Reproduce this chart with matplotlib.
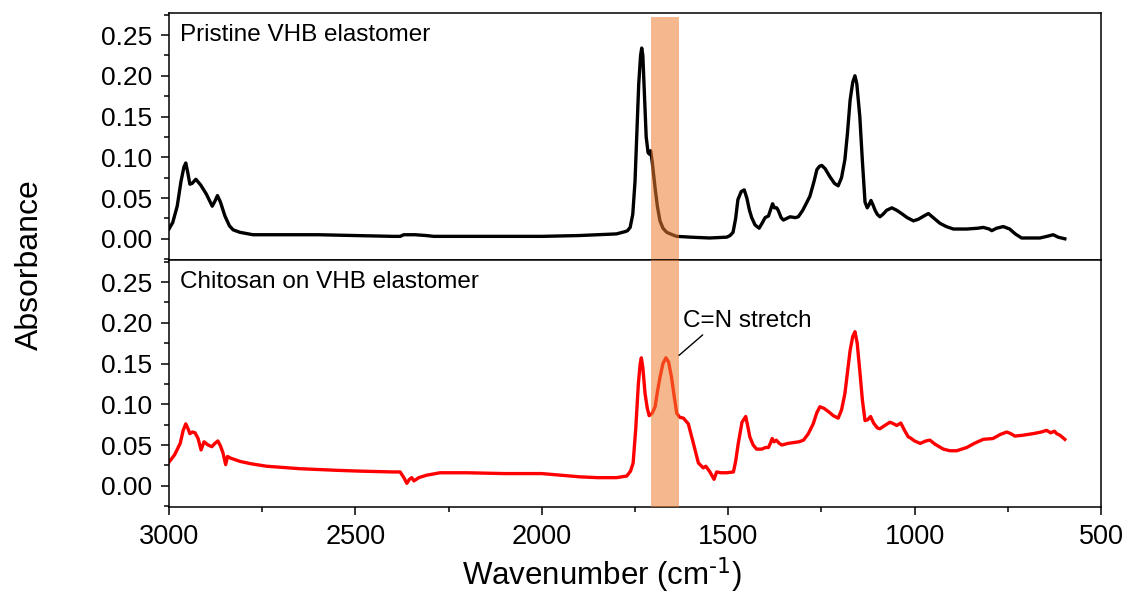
import matplotlib
matplotlib.use("Agg")
import matplotlib.pyplot as plt
from matplotlib.ticker import MultipleLocator

plt.rcParams['font.family'] = ['Liberation Sans', 'DejaVu Sans']
plt.rcParams['mathtext.default'] = 'regular'

# ---- data: pristine VHB elastomer (black) ----
wn_pristine = [3000, 2990, 2978, 2968, 2960, 2955, 2950, 2944, 2938, 2928, 2915, 2900, 2884, 2877,
               2870, 2862, 2850, 2838, 2828, 2810, 2775, 2700, 2600, 2500, 2400, 2380, 2370, 2340,
               2310, 2290, 2200, 2100, 2000, 1900, 1800, 1775, 1770, 1763, 1756, 1750, 1745, 1740,
               1735, 1732, 1729, 1725, 1720, 1715, 1712, 1708, 1704, 1700, 1696, 1690, 1683, 1675,
               1665, 1650, 1638, 1600, 1550, 1504, 1495, 1487, 1480, 1474, 1465, 1457, 1450, 1443,
               1437, 1428, 1417, 1408, 1401, 1392, 1386, 1381, 1376, 1370, 1366, 1358, 1352, 1343,
               1334, 1320, 1312, 1300, 1290, 1281, 1270, 1262, 1255, 1249, 1240, 1227, 1215, 1205,
               1196, 1187, 1180, 1173, 1166, 1160, 1155, 1147, 1140, 1133, 1127, 1122, 1117, 1112,
               1106, 1100, 1093, 1085, 1075, 1061, 1048, 1035, 1020, 1003, 990, 975, 963, 950, 932,
               915, 896, 860, 830, 816, 800, 793, 780, 762, 745, 730, 713, 690, 664, 645, 628, 615, 597]
abs_pristine = [0.012, 0.020, 0.040, 0.070, 0.088, 0.093, 0.082, 0.067, 0.068, 0.073, 0.066, 0.055, 0.040, 0.046,
                0.053, 0.045, 0.028, 0.016, 0.011, 0.008, 0.005, 0.005, 0.005, 0.004, 0.003, 0.003, 0.005, 0.005,
                0.004, 0.003, 0.003, 0.003, 0.003, 0.004, 0.006, 0.009, 0.010, 0.014, 0.030, 0.070, 0.130, 0.190,
                0.225, 0.234, 0.225, 0.180, 0.125, 0.106, 0.104, 0.108, 0.095, 0.078, 0.062, 0.040, 0.022, 0.013,
                0.008, 0.005, 0.003, 0.002, 0.001, 0.002, 0.004, 0.008, 0.025, 0.048, 0.058, 0.060, 0.050, 0.035,
                0.026, 0.017, 0.013, 0.020, 0.026, 0.028, 0.036, 0.043, 0.038, 0.038, 0.035, 0.026, 0.023, 0.025,
                0.027, 0.026, 0.027, 0.035, 0.044, 0.052, 0.070, 0.085, 0.089, 0.090, 0.086, 0.076, 0.068, 0.065,
                0.075, 0.097, 0.130, 0.170, 0.192, 0.200, 0.190, 0.150, 0.095, 0.045, 0.038, 0.042, 0.047, 0.042,
                0.035, 0.030, 0.027, 0.030, 0.035, 0.038, 0.035, 0.031, 0.026, 0.022, 0.024, 0.028, 0.031, 0.026, 0.019,
                0.015, 0.012, 0.012, 0.013, 0.014, 0.012, 0.010, 0.013, 0.015, 0.012, 0.006, 0.001, 0.001, 0.001, 0.003, 0.005, 0.002, 0.000]

# ---- data: chitosan on VHB elastomer (red) ----
wn_chitosan = [3000, 2985, 2970, 2962, 2955, 2949, 2944, 2937, 2930, 2922, 2914, 2906, 2895, 2885, 2877,
               2869, 2862, 2855, 2848, 2843, 2835, 2810, 2780, 2738, 2650, 2550, 2488, 2400, 2380, 2370,
               2362, 2355, 2349, 2343, 2330, 2309, 2273, 2200, 2100, 2000, 1950, 1898, 1850, 1800, 1772,
               1762, 1755, 1748, 1741, 1736, 1733, 1729, 1723, 1717, 1712, 1704, 1696, 1690, 1683, 1675,
               1667, 1660, 1652, 1645, 1638, 1630, 1620, 1607, 1595, 1580, 1567, 1560, 1549, 1538, 1531,
               1520, 1504, 1486, 1480, 1473, 1463, 1453, 1447, 1442, 1433, 1424, 1410, 1400, 1392, 1387,
               1382, 1377, 1371, 1363, 1356, 1340, 1325, 1310, 1298, 1285, 1272, 1262, 1254, 1243, 1231,
               1218, 1205, 1196, 1187, 1180, 1173, 1166, 1160, 1154, 1147, 1140, 1133, 1126, 1118, 1110,
               1100, 1093, 1080, 1066, 1056, 1048, 1037, 1027, 1017, 1012, 1000, 985, 970, 959, 945, 923,
               905, 887, 860, 840, 816, 790, 770, 753, 742, 731, 710, 682, 660, 646, 635, 625, 619, 610, 597]
abs_chitosan = [0.029, 0.038, 0.052, 0.068, 0.076, 0.070, 0.064, 0.066, 0.065, 0.058, 0.044, 0.054, 0.050, 0.048, 0.052,
                0.055, 0.049, 0.040, 0.026, 0.036, 0.034, 0.030, 0.027, 0.024, 0.021, 0.019, 0.018, 0.017, 0.017, 0.010,
                0.003, 0.008, 0.010, 0.006, 0.010, 0.013, 0.016, 0.016, 0.015, 0.015, 0.013, 0.011, 0.010, 0.010, 0.012,
                0.018, 0.028, 0.070, 0.125, 0.150, 0.157, 0.145, 0.113, 0.095, 0.086, 0.089, 0.097, 0.115, 0.133, 0.150,
                0.157, 0.152, 0.133, 0.110, 0.089, 0.084, 0.083, 0.076, 0.055, 0.028, 0.022, 0.024, 0.017, 0.008, 0.017,
                0.016, 0.016, 0.017, 0.030, 0.052, 0.078, 0.085, 0.072, 0.060, 0.050, 0.045, 0.045, 0.047, 0.047, 0.052,
                0.058, 0.054, 0.056, 0.052, 0.050, 0.052, 0.053, 0.054, 0.056, 0.064, 0.076, 0.090, 0.097, 0.095, 0.091,
                0.086, 0.083, 0.093, 0.113, 0.140, 0.166, 0.183, 0.189, 0.175, 0.141, 0.105, 0.080, 0.081, 0.085, 0.077,
                0.071, 0.070, 0.074, 0.078, 0.076, 0.074, 0.077, 0.068, 0.060, 0.059, 0.055, 0.052, 0.055, 0.056, 0.051, 0.045,
                0.043, 0.043, 0.047, 0.052, 0.057, 0.058, 0.063, 0.066, 0.064, 0.061, 0.062, 0.064, 0.066, 0.068, 0.065, 0.067, 0.064, 0.062, 0.057]

panel_titles = ["Pristine VHB elastomer", "Chitosan on VHB elastomer"]
band_range = (1633, 1707)
xlim = (3000, 500)
ylim = (-0.026, 0.277)

fig = plt.figure(figsize=(11.29, 5.94), dpi=100)
left, width = 169 / 1129, (1101 - 169) / 1129
h = (260 - 13) / 594
ax1 = fig.add_axes([left, 1 - 260 / 594, width, h])
ax2 = fig.add_axes([left, 1 - 507 / 594, width, h])

ax1.plot(wn_pristine, abs_pristine, color='black', lw=2.4, zorder=2, solid_joinstyle='round')
ax2.plot(wn_chitosan, abs_chitosan, color='#FF0000', lw=2.4, zorder=2, solid_joinstyle='round')

band_color = '#ED7D31'
ax1.axvspan(band_range[0], band_range[1], ymin=0, ymax=(0.272 - ylim[0]) / (ylim[1] - ylim[0]),
            color=band_color, alpha=0.55, lw=0, zorder=3)
ax2.axvspan(band_range[0], band_range[1], color=band_color, alpha=0.55, lw=0, zorder=3)

for ax, title in zip((ax1, ax2), panel_titles):
    ax.set_xlim(*xlim)
    ax.set_ylim(*ylim)
    ax.yaxis.set_major_locator(MultipleLocator(0.05))
    ax.yaxis.set_minor_locator(MultipleLocator(0.025))
    ax.xaxis.set_major_locator(MultipleLocator(500))
    ax.xaxis.set_minor_locator(MultipleLocator(250))
    ax.yaxis.set_major_formatter(matplotlib.ticker.FormatStrFormatter('%.2f'))
    for s in ax.spines.values():
        s.set_linewidth(1.1)
    ax.tick_params(axis='y', which='major', direction='out', length=6, width=1.1, labelsize=19, pad=6)
    ax.tick_params(axis='y', which='minor', direction='out', length=3.5, width=1.1)
    ax.tick_params(axis='x', which='major', direction='out', length=6, width=1.1, labelsize=19.5, pad=6)
    ax.tick_params(axis='x', which='minor', direction='out', length=3.5, width=1.1)
    ax.text(0.012, (0.25 - ylim[0]) / (ylim[1] - ylim[0]), title, transform=ax.transAxes,
            fontsize=17.5, ha='left', va='center')

ax1.tick_params(axis='x', which='both', bottom=False, labelbottom=False)

ax2.annotate("C=N stretch", xy=(1632, 0.160), xytext=(1622, 0.202), fontsize=17.5,
             ha='left', va='center',
             arrowprops=dict(arrowstyle='-', color='black', lw=1.0,
                             shrinkA=0, shrinkB=0, relpos=(0.18, 0.0)))

ax2.set_xlabel(r'Wavenumber (cm$^{\text{-1}}$)', fontsize=22.5)
ax2.xaxis.set_label_coords(0.465, -0.195)
fig.text(30 / 1129, 1 - 265 / 594, 'Absorbance', rotation=90, fontsize=23, ha='center', va='center')

fig.savefig('out.png', dpi=100)
